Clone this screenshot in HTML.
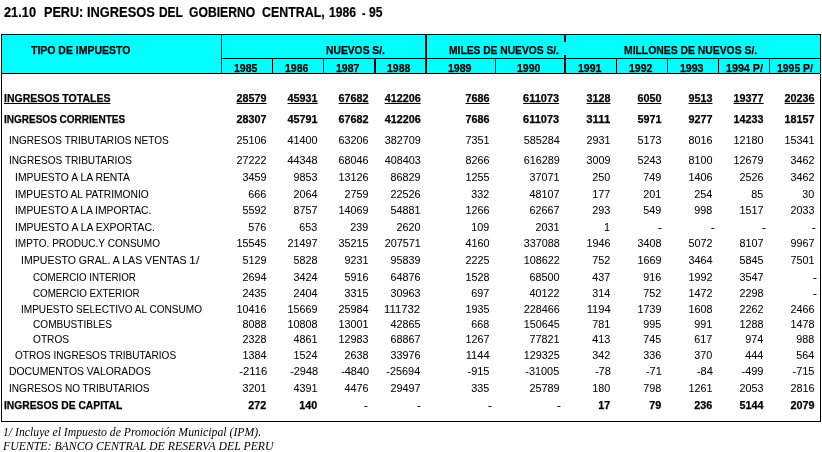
<!DOCTYPE html>
<html><head><meta charset="utf-8"><title>Peru ingresos</title><style>
html,body{margin:0;padding:0;background:#fff}
body{width:822px;height:452px;overflow:hidden;position:relative}
.k{position:absolute;background:#000}
.t{position:absolute;white-space:pre;font-family:"Liberation Sans",Arial,sans-serif;font-size:11px;line-height:13px;color:#000;transform-origin:0 0}
#tx{position:absolute;left:0;top:0;width:822px;height:452px;will-change:transform}
.b{font-weight:bold;-webkit-text-stroke:0.25px #000}
.n{-webkit-text-stroke:0.05px #000}
.d{-webkit-text-stroke:0.2px #000}
.u{text-decoration:underline;text-decoration-thickness:1px;text-underline-offset:1px}
.tt{font-size:14px;line-height:17px;font-weight:bold;-webkit-text-stroke:0.2px #000}
.fi{font-family:"Liberation Serif","Times New Roman",serif;font-style:italic;font-size:12px;line-height:14px}
</style></head><body>
<div class="k" style="left:2px;top:35px;width:818px;height:38px;background:#00ffff"></div>
<div class="k" style="left:1px;top:34px;width:820px;height:1px"></div>
<div class="k" style="left:1px;top:34px;width:1px;height:388px"></div>
<div class="k" style="left:820px;top:34px;width:1px;height:388px"></div>
<div class="k" style="left:1px;top:421px;width:820px;height:1px"></div>
<div class="k" style="left:1px;top:73px;width:820px;height:1px"></div>
<div class="k" style="left:221px;top:58px;width:600px;height:1px"></div>
<div class="k" style="left:221px;top:34px;width:1px;height:40px"></div>
<div class="k" style="left:425px;top:34px;width:2px;height:40px"></div>
<div class="k" style="left:564px;top:34px;width:2px;height:8px"></div>
<div class="k" style="left:564px;top:55px;width:2px;height:19px"></div>
<div class="k" style="left:272px;top:58px;width:1px;height:16px"></div>
<div class="k" style="left:323px;top:58px;width:1px;height:16px"></div>
<div class="k" style="left:374px;top:58px;width:2px;height:16px"></div>
<div class="k" style="left:495px;top:58px;width:1px;height:16px"></div>
<div class="k" style="left:616px;top:58px;width:1px;height:16px"></div>
<div class="k" style="left:667px;top:58px;width:1px;height:16px"></div>
<div class="k" style="left:718px;top:58px;width:1px;height:16px"></div>
<div class="k" style="left:769px;top:58px;width:1px;height:16px"></div>
<div class="k" style="left:820px;top:73px;width:1px;height:1px;background:#00ffff"></div>
<div id="tx">
<div id="tw0" class="t tt" style="left:4.00px;transform:scaleX(0.9143);top:4px">21.10</div>
<div id="tw1" class="t tt" style="left:44.10px;transform:scaleX(0.9024);top:4px">PERU:</div>
<div id="tw2" class="t tt" style="left:87.08px;transform:scaleX(0.9167);top:4px">INGRESOS</div>
<div id="tw3" class="t tt" style="left:159.15px;transform:scaleX(0.8519);top:4px">DEL</div>
<div id="tw4" class="t tt" style="left:189.00px;transform:scaleX(0.8684);top:4px">GOBIERNO</div>
<div id="tw5" class="t tt" style="left:262.00px;transform:scaleX(0.8857);top:4px">CENTRAL,</div>
<div id="tw6" class="t tt" style="left:329.13px;transform:scaleX(0.8667);top:4px">1986</div>
<div id="tw7" class="t tt" style="left:362.00px;transform:scaleX(0.7500);top:5px">-</div>
<div id="tw8" class="t tt" style="left:369.00px;transform:scaleX(0.8667);top:4px">95</div>
<div id="h_tipo" class="t b" style="left:31.00px;transform:scaleX(0.9519);top:44px">TIPO DE IMPUESTO</div>
<div id="h_nuevos" class="t b" style="left:326.00px;transform:scaleX(0.9365);top:44px">NUEVOS S/.</div>
<div id="h_miles" class="t b" style="left:449.00px;transform:scaleX(0.9322);top:44px">MILES DE NUEVOS S/.</div>
<div id="h_millones" class="t b" style="left:624.00px;transform:scaleX(0.9433);top:44px">MILLONES DE NUEVOS S/.</div>
<div id="y0" class="t b" style="left:234.00px;transform:scaleX(0.9583);top:62px">1985</div>
<div id="y1" class="t b" style="left:285.00px;transform:scaleX(0.9583);top:62px">1986</div>
<div id="y2" class="t b" style="left:336.00px;transform:scaleX(0.9583);top:62px">1987</div>
<div id="y3" class="t b" style="left:387.00px;transform:scaleX(0.9583);top:62px">1988</div>
<div id="y4" class="t b" style="left:448.00px;transform:scaleX(0.9583);top:62px">1989</div>
<div id="y5" class="t b" style="left:517.00px;transform:scaleX(0.9583);top:62px">1990</div>
<div id="y6" class="t b" style="left:578.00px;transform:scaleX(0.9583);top:62px">1991</div>
<div id="y7" class="t b" style="left:629.00px;transform:scaleX(0.9583);top:62px">1992</div>
<div id="y8" class="t b" style="left:680.00px;transform:scaleX(0.9583);top:62px">1993</div>
<div id="y9" class="t b" style="left:726.00px;transform:scaleX(0.9737);top:62px">1994 P/</div>
<div id="y10" class="t b" style="left:777.00px;transform:scaleX(0.9474);top:62px">1995 P/</div>
<div id="l0" class="t b u" style="left:4.00px;transform:scaleX(0.9550);top:92px">INGRESOS TOTALES</div>
<div id="v0_0" class="t b u" style="right:555.50px;transform:scaleX(0.9806);transform-origin:100% 0;top:92px">28579</div>
<div id="v0_1" class="t b u" style="right:504.50px;transform:scaleX(0.9806);transform-origin:100% 0;top:92px">45931</div>
<div id="v0_2" class="t b u" style="right:453.50px;transform:scaleX(0.9806);transform-origin:100% 0;top:92px">67682</div>
<div id="v0_3" class="t b u" style="right:401.50px;transform:scaleX(0.9804);transform-origin:100% 0;top:92px">412206</div>
<div id="v0_4" class="t b u" style="right:332.50px;transform:scaleX(0.9802);transform-origin:100% 0;top:92px">7686</div>
<div id="v0_5" class="t b u" style="right:262.50px;transform:scaleX(0.9970);transform-origin:100% 0;top:92px">611073</div>
<div id="v0_6" class="t b u" style="right:211.50px;transform:scaleX(0.9802);transform-origin:100% 0;top:92px">3128</div>
<div id="v0_7" class="t b u" style="right:160.50px;transform:scaleX(0.9802);transform-origin:100% 0;top:92px">6050</div>
<div id="v0_8" class="t b u" style="right:109.50px;transform:scaleX(0.9802);transform-origin:100% 0;top:92px">9513</div>
<div id="v0_9" class="t b u" style="right:58.50px;transform:scaleX(0.9806);transform-origin:100% 0;top:92px">19377</div>
<div id="v0_10" class="t b u" style="right:7.50px;transform:scaleX(0.9806);transform-origin:100% 0;top:92px">20236</div>
<div id="l1" class="t b" style="left:4.00px;transform:scaleX(0.9098);top:113px">INGRESOS CORRIENTES</div>
<div id="v1_0" class="t b" style="right:555.50px;transform:scaleX(0.9806);transform-origin:100% 0;top:113px">28307</div>
<div id="v1_1" class="t b" style="right:504.50px;transform:scaleX(0.9806);transform-origin:100% 0;top:113px">45791</div>
<div id="v1_2" class="t b" style="right:453.50px;transform:scaleX(0.9806);transform-origin:100% 0;top:113px">67682</div>
<div id="v1_3" class="t b" style="right:401.50px;transform:scaleX(0.9804);transform-origin:100% 0;top:113px">412206</div>
<div id="v1_4" class="t b" style="right:332.50px;transform:scaleX(0.9802);transform-origin:100% 0;top:113px">7686</div>
<div id="v1_5" class="t b" style="right:262.50px;transform:scaleX(0.9970);transform-origin:100% 0;top:113px">611073</div>
<div id="v1_6" class="t b" style="right:211.50px;transform:scaleX(1.0316);transform-origin:100% 0;top:113px">3111</div>
<div id="v1_7" class="t b" style="right:160.50px;transform:scaleX(0.9802);transform-origin:100% 0;top:113px">5971</div>
<div id="v1_8" class="t b" style="right:109.50px;transform:scaleX(0.9802);transform-origin:100% 0;top:113px">9277</div>
<div id="v1_9" class="t b" style="right:58.50px;transform:scaleX(0.9806);transform-origin:100% 0;top:113px">14233</div>
<div id="v1_10" class="t b" style="right:7.50px;transform:scaleX(0.9806);transform-origin:100% 0;top:113px">18157</div>
<div id="l2" class="t n" style="left:9.09px;transform:scaleX(0.9133);top:134px">INGRESOS TRIBUTARIOS NETOS</div>
<div id="v2_0" class="t n" style="right:555.50px;transform:scaleX(0.9806);transform-origin:100% 0;top:134px">25106</div>
<div id="v2_1" class="t n" style="right:504.50px;transform:scaleX(0.9806);transform-origin:100% 0;top:134px">41400</div>
<div id="v2_2" class="t n" style="right:453.50px;transform:scaleX(0.9806);transform-origin:100% 0;top:134px">63206</div>
<div id="v2_3" class="t n" style="right:401.50px;transform:scaleX(0.9804);transform-origin:100% 0;top:134px">382709</div>
<div id="v2_4" class="t n" style="right:332.50px;transform:scaleX(0.9802);transform-origin:100% 0;top:134px">7351</div>
<div id="v2_5" class="t n" style="right:262.50px;transform:scaleX(0.9804);transform-origin:100% 0;top:134px">585284</div>
<div id="v2_6" class="t n" style="right:211.50px;transform:scaleX(0.9802);transform-origin:100% 0;top:134px">2931</div>
<div id="v2_7" class="t n" style="right:160.50px;transform:scaleX(0.9802);transform-origin:100% 0;top:134px">5173</div>
<div id="v2_8" class="t n" style="right:109.50px;transform:scaleX(0.9802);transform-origin:100% 0;top:134px">8016</div>
<div id="v2_9" class="t n" style="right:58.50px;transform:scaleX(0.9806);transform-origin:100% 0;top:134px">12180</div>
<div id="v2_10" class="t n" style="right:7.50px;transform:scaleX(0.9806);transform-origin:100% 0;top:134px">15341</div>
<div id="l3" class="t n" style="left:9.08px;transform:scaleX(0.9173);top:154px">INGRESOS TRIBUTARIOS</div>
<div id="v3_0" class="t n" style="right:555.50px;transform:scaleX(0.9806);transform-origin:100% 0;top:154px">27222</div>
<div id="v3_1" class="t n" style="right:504.50px;transform:scaleX(0.9806);transform-origin:100% 0;top:154px">44348</div>
<div id="v3_2" class="t n" style="right:453.50px;transform:scaleX(0.9806);transform-origin:100% 0;top:154px">68046</div>
<div id="v3_3" class="t n" style="right:401.50px;transform:scaleX(0.9804);transform-origin:100% 0;top:154px">408403</div>
<div id="v3_4" class="t n" style="right:332.50px;transform:scaleX(0.9802);transform-origin:100% 0;top:154px">8266</div>
<div id="v3_5" class="t n" style="right:262.50px;transform:scaleX(0.9804);transform-origin:100% 0;top:154px">616289</div>
<div id="v3_6" class="t n" style="right:211.50px;transform:scaleX(0.9802);transform-origin:100% 0;top:154px">3009</div>
<div id="v3_7" class="t n" style="right:160.50px;transform:scaleX(0.9802);transform-origin:100% 0;top:154px">5243</div>
<div id="v3_8" class="t n" style="right:109.50px;transform:scaleX(0.9802);transform-origin:100% 0;top:154px">8100</div>
<div id="v3_9" class="t n" style="right:58.50px;transform:scaleX(0.9806);transform-origin:100% 0;top:154px">12679</div>
<div id="v3_10" class="t n" style="right:7.50px;transform:scaleX(0.9802);transform-origin:100% 0;top:154px">3462</div>
<div id="l4" class="t n" style="left:15.06px;transform:scaleX(0.9421);top:171px">IMPUESTO A LA RENTA</div>
<div id="v4_0" class="t n" style="right:555.50px;transform:scaleX(0.9802);transform-origin:100% 0;top:171px">3459</div>
<div id="v4_1" class="t n" style="right:504.50px;transform:scaleX(0.9802);transform-origin:100% 0;top:171px">9853</div>
<div id="v4_2" class="t n" style="right:453.50px;transform:scaleX(0.9806);transform-origin:100% 0;top:171px">13126</div>
<div id="v4_3" class="t n" style="right:401.50px;transform:scaleX(0.9806);transform-origin:100% 0;top:171px">86829</div>
<div id="v4_4" class="t n" style="right:332.50px;transform:scaleX(0.9802);transform-origin:100% 0;top:171px">1255</div>
<div id="v4_5" class="t n" style="right:262.50px;transform:scaleX(0.9806);transform-origin:100% 0;top:171px">37071</div>
<div id="v4_6" class="t n" style="right:211.50px;transform:scaleX(0.9804);transform-origin:100% 0;top:171px">250</div>
<div id="v4_7" class="t n" style="right:160.50px;transform:scaleX(0.9804);transform-origin:100% 0;top:171px">749</div>
<div id="v4_8" class="t n" style="right:109.50px;transform:scaleX(0.9802);transform-origin:100% 0;top:171px">1406</div>
<div id="v4_9" class="t n" style="right:58.50px;transform:scaleX(0.9802);transform-origin:100% 0;top:171px">2526</div>
<div id="v4_10" class="t n" style="right:7.50px;transform:scaleX(0.9802);transform-origin:100% 0;top:171px">3462</div>
<div id="l5" class="t n" style="left:15.07px;transform:scaleX(0.9296);top:188px">IMPUESTO AL PATRIMONIO</div>
<div id="v5_0" class="t n" style="right:555.50px;transform:scaleX(0.9804);transform-origin:100% 0;top:188px">666</div>
<div id="v5_1" class="t n" style="right:504.50px;transform:scaleX(0.9802);transform-origin:100% 0;top:188px">2064</div>
<div id="v5_2" class="t n" style="right:453.50px;transform:scaleX(0.9802);transform-origin:100% 0;top:188px">2759</div>
<div id="v5_3" class="t n" style="right:401.50px;transform:scaleX(0.9806);transform-origin:100% 0;top:188px">22526</div>
<div id="v5_4" class="t n" style="right:332.50px;transform:scaleX(0.9804);transform-origin:100% 0;top:188px">332</div>
<div id="v5_5" class="t n" style="right:262.50px;transform:scaleX(0.9806);transform-origin:100% 0;top:188px">48107</div>
<div id="v5_6" class="t n" style="right:211.50px;transform:scaleX(0.9804);transform-origin:100% 0;top:188px">177</div>
<div id="v5_7" class="t n" style="right:160.50px;transform:scaleX(0.9804);transform-origin:100% 0;top:188px">201</div>
<div id="v5_8" class="t n" style="right:109.50px;transform:scaleX(0.9804);transform-origin:100% 0;top:188px">254</div>
<div id="v5_9" class="t n" style="right:58.50px;transform:scaleX(0.9796);transform-origin:100% 0;top:188px">85</div>
<div id="v5_10" class="t n" style="right:7.50px;transform:scaleX(0.9796);transform-origin:100% 0;top:188px">30</div>
<div id="l6" class="t n" style="left:15.06px;transform:scaleX(0.9375);top:204px">IMPUESTO A LA IMPORTAC.</div>
<div id="v6_0" class="t n" style="right:555.50px;transform:scaleX(0.9802);transform-origin:100% 0;top:204px">5592</div>
<div id="v6_1" class="t n" style="right:504.50px;transform:scaleX(0.9802);transform-origin:100% 0;top:204px">8757</div>
<div id="v6_2" class="t n" style="right:453.50px;transform:scaleX(0.9806);transform-origin:100% 0;top:204px">14069</div>
<div id="v6_3" class="t n" style="right:401.50px;transform:scaleX(0.9806);transform-origin:100% 0;top:204px">54881</div>
<div id="v6_4" class="t n" style="right:332.50px;transform:scaleX(0.9802);transform-origin:100% 0;top:204px">1266</div>
<div id="v6_5" class="t n" style="right:262.50px;transform:scaleX(0.9806);transform-origin:100% 0;top:204px">62667</div>
<div id="v6_6" class="t n" style="right:211.50px;transform:scaleX(0.9804);transform-origin:100% 0;top:204px">293</div>
<div id="v6_7" class="t n" style="right:160.50px;transform:scaleX(0.9804);transform-origin:100% 0;top:204px">549</div>
<div id="v6_8" class="t n" style="right:109.50px;transform:scaleX(0.9804);transform-origin:100% 0;top:204px">998</div>
<div id="v6_9" class="t n" style="right:58.50px;transform:scaleX(0.9802);transform-origin:100% 0;top:204px">1517</div>
<div id="v6_10" class="t n" style="right:7.50px;transform:scaleX(0.9802);transform-origin:100% 0;top:204px">2033</div>
<div id="l7" class="t n" style="left:15.05px;transform:scaleX(0.9452);top:221px">IMPUESTO A LA EXPORTAC.</div>
<div id="v7_0" class="t n" style="right:555.50px;transform:scaleX(0.9804);transform-origin:100% 0;top:221px">576</div>
<div id="v7_1" class="t n" style="right:504.50px;transform:scaleX(0.9804);transform-origin:100% 0;top:221px">653</div>
<div id="v7_2" class="t n" style="right:453.50px;transform:scaleX(0.9804);transform-origin:100% 0;top:221px">239</div>
<div id="v7_3" class="t n" style="right:401.50px;transform:scaleX(0.9802);transform-origin:100% 0;top:221px">2620</div>
<div id="v7_4" class="t n" style="right:332.50px;transform:scaleX(0.9804);transform-origin:100% 0;top:221px">109</div>
<div id="v7_5" class="t n" style="right:262.50px;transform:scaleX(0.9802);transform-origin:100% 0;top:221px">2031</div>
<div id="v7_6" class="t n" style="right:211.50px;transform:scaleX(0.9796);transform-origin:100% 0;top:221px">1</div>
<div id="v7_7" class="t n d" style="left:658.00px;top:221px">-</div>
<div id="v7_8" class="t n d" style="left:711.00px;top:221px">-</div>
<div id="v7_9" class="t n d" style="left:762.00px;top:221px">-</div>
<div id="v7_10" class="t n d" style="left:812.00px;top:221px">-</div>
<div id="l8" class="t n" style="left:15.09px;transform:scaleX(0.9114);top:237px">IMPTO. PRODUC.Y CONSUMO</div>
<div id="v8_0" class="t n" style="right:555.50px;transform:scaleX(0.9806);transform-origin:100% 0;top:237px">15545</div>
<div id="v8_1" class="t n" style="right:504.50px;transform:scaleX(0.9806);transform-origin:100% 0;top:237px">21497</div>
<div id="v8_2" class="t n" style="right:453.50px;transform:scaleX(0.9806);transform-origin:100% 0;top:237px">35215</div>
<div id="v8_3" class="t n" style="right:401.50px;transform:scaleX(0.9804);transform-origin:100% 0;top:237px">207571</div>
<div id="v8_4" class="t n" style="right:332.50px;transform:scaleX(0.9802);transform-origin:100% 0;top:237px">4160</div>
<div id="v8_5" class="t n" style="right:262.50px;transform:scaleX(0.9804);transform-origin:100% 0;top:237px">337088</div>
<div id="v8_6" class="t n" style="right:211.50px;transform:scaleX(0.9802);transform-origin:100% 0;top:237px">1946</div>
<div id="v8_7" class="t n" style="right:160.50px;transform:scaleX(0.9802);transform-origin:100% 0;top:237px">3408</div>
<div id="v8_8" class="t n" style="right:109.50px;transform:scaleX(0.9802);transform-origin:100% 0;top:237px">5072</div>
<div id="v8_9" class="t n" style="right:58.50px;transform:scaleX(0.9802);transform-origin:100% 0;top:237px">8107</div>
<div id="v8_10" class="t n" style="right:7.50px;transform:scaleX(0.9802);transform-origin:100% 0;top:237px">9967</div>
<div id="l9" class="t n" style="left:21.04px;transform:scaleX(0.9591);top:254px">IMPUESTO GRAL. A LAS VENTAS</div>
<div id="l9b" class="t n" style="left:188.88px;transform:scaleX(1.1250);top:254px">1/</div>
<div id="v9_0" class="t n" style="right:555.50px;transform:scaleX(0.9802);transform-origin:100% 0;top:254px">5129</div>
<div id="v9_1" class="t n" style="right:504.50px;transform:scaleX(0.9802);transform-origin:100% 0;top:254px">5828</div>
<div id="v9_2" class="t n" style="right:453.50px;transform:scaleX(0.9802);transform-origin:100% 0;top:254px">9231</div>
<div id="v9_3" class="t n" style="right:401.50px;transform:scaleX(0.9806);transform-origin:100% 0;top:254px">95839</div>
<div id="v9_4" class="t n" style="right:332.50px;transform:scaleX(0.9802);transform-origin:100% 0;top:254px">2225</div>
<div id="v9_5" class="t n" style="right:262.50px;transform:scaleX(0.9804);transform-origin:100% 0;top:254px">108622</div>
<div id="v9_6" class="t n" style="right:211.50px;transform:scaleX(0.9804);transform-origin:100% 0;top:254px">752</div>
<div id="v9_7" class="t n" style="right:160.50px;transform:scaleX(0.9802);transform-origin:100% 0;top:254px">1669</div>
<div id="v9_8" class="t n" style="right:109.50px;transform:scaleX(0.9802);transform-origin:100% 0;top:254px">3464</div>
<div id="v9_9" class="t n" style="right:58.50px;transform:scaleX(0.9802);transform-origin:100% 0;top:254px">5845</div>
<div id="v9_10" class="t n" style="right:7.50px;transform:scaleX(0.9802);transform-origin:100% 0;top:254px">7501</div>
<div id="l10" class="t n" style="left:33.11px;transform:scaleX(0.8860);top:271px">COMERCIO INTERIOR</div>
<div id="v10_0" class="t n" style="right:555.50px;transform:scaleX(0.9802);transform-origin:100% 0;top:271px">2694</div>
<div id="v10_1" class="t n" style="right:504.50px;transform:scaleX(0.9802);transform-origin:100% 0;top:271px">3424</div>
<div id="v10_2" class="t n" style="right:453.50px;transform:scaleX(0.9802);transform-origin:100% 0;top:271px">5916</div>
<div id="v10_3" class="t n" style="right:401.50px;transform:scaleX(0.9806);transform-origin:100% 0;top:271px">64876</div>
<div id="v10_4" class="t n" style="right:332.50px;transform:scaleX(0.9802);transform-origin:100% 0;top:271px">1528</div>
<div id="v10_5" class="t n" style="right:262.50px;transform:scaleX(0.9806);transform-origin:100% 0;top:271px">68500</div>
<div id="v10_6" class="t n" style="right:211.50px;transform:scaleX(0.9804);transform-origin:100% 0;top:271px">437</div>
<div id="v10_7" class="t n" style="right:160.50px;transform:scaleX(0.9804);transform-origin:100% 0;top:271px">916</div>
<div id="v10_8" class="t n" style="right:109.50px;transform:scaleX(0.9802);transform-origin:100% 0;top:271px">1992</div>
<div id="v10_9" class="t n" style="right:58.50px;transform:scaleX(0.9802);transform-origin:100% 0;top:271px">3547</div>
<div id="v10_10" class="t n d" style="left:813.00px;top:271px">-</div>
<div id="l11" class="t n" style="left:33.11px;transform:scaleX(0.8898);top:287px">COMERCIO EXTERIOR</div>
<div id="v11_0" class="t n" style="right:555.50px;transform:scaleX(0.9802);transform-origin:100% 0;top:287px">2435</div>
<div id="v11_1" class="t n" style="right:504.50px;transform:scaleX(0.9802);transform-origin:100% 0;top:287px">2404</div>
<div id="v11_2" class="t n" style="right:453.50px;transform:scaleX(0.9802);transform-origin:100% 0;top:287px">3315</div>
<div id="v11_3" class="t n" style="right:401.50px;transform:scaleX(0.9806);transform-origin:100% 0;top:287px">30963</div>
<div id="v11_4" class="t n" style="right:332.50px;transform:scaleX(0.9804);transform-origin:100% 0;top:287px">697</div>
<div id="v11_5" class="t n" style="right:262.50px;transform:scaleX(0.9806);transform-origin:100% 0;top:287px">40122</div>
<div id="v11_6" class="t n" style="right:211.50px;transform:scaleX(0.9804);transform-origin:100% 0;top:287px">314</div>
<div id="v11_7" class="t n" style="right:160.50px;transform:scaleX(0.9804);transform-origin:100% 0;top:287px">752</div>
<div id="v11_8" class="t n" style="right:109.50px;transform:scaleX(0.9802);transform-origin:100% 0;top:287px">1472</div>
<div id="v11_9" class="t n" style="right:58.50px;transform:scaleX(0.9802);transform-origin:100% 0;top:287px">2298</div>
<div id="v11_10" class="t n d" style="left:813.00px;top:287px">-</div>
<div id="l12" class="t n" style="left:21.09px;transform:scaleX(0.9137);top:303px">IMPUESTO SELECTIVO AL CONSUMO</div>
<div id="v12_0" class="t n" style="right:555.50px;transform:scaleX(0.9806);transform-origin:100% 0;top:303px">10416</div>
<div id="v12_1" class="t n" style="right:504.50px;transform:scaleX(0.9806);transform-origin:100% 0;top:303px">15669</div>
<div id="v12_2" class="t n" style="right:453.50px;transform:scaleX(0.9806);transform-origin:100% 0;top:303px">25984</div>
<div id="v12_3" class="t n" style="right:401.50px;transform:scaleX(1.0263);transform-origin:100% 0;top:303px">111732</div>
<div id="v12_4" class="t n" style="right:332.50px;transform:scaleX(0.9802);transform-origin:100% 0;top:303px">1935</div>
<div id="v12_5" class="t n" style="right:262.50px;transform:scaleX(0.9804);transform-origin:100% 0;top:303px">228466</div>
<div id="v12_6" class="t n" style="right:211.50px;transform:scaleX(1.0145);transform-origin:100% 0;top:303px">1194</div>
<div id="v12_7" class="t n" style="right:160.50px;transform:scaleX(0.9802);transform-origin:100% 0;top:303px">1739</div>
<div id="v12_8" class="t n" style="right:109.50px;transform:scaleX(0.9802);transform-origin:100% 0;top:303px">1608</div>
<div id="v12_9" class="t n" style="right:58.50px;transform:scaleX(0.9802);transform-origin:100% 0;top:303px">2262</div>
<div id="v12_10" class="t n" style="right:7.50px;transform:scaleX(0.9802);transform-origin:100% 0;top:303px">2466</div>
<div id="l13" class="t n" style="left:33.08px;transform:scaleX(0.9176);top:318px">COMBUSTIBLES</div>
<div id="v13_0" class="t n" style="right:555.50px;transform:scaleX(0.9802);transform-origin:100% 0;top:318px">8088</div>
<div id="v13_1" class="t n" style="right:504.50px;transform:scaleX(0.9806);transform-origin:100% 0;top:318px">10808</div>
<div id="v13_2" class="t n" style="right:453.50px;transform:scaleX(0.9806);transform-origin:100% 0;top:318px">13001</div>
<div id="v13_3" class="t n" style="right:401.50px;transform:scaleX(0.9806);transform-origin:100% 0;top:318px">42865</div>
<div id="v13_4" class="t n" style="right:332.50px;transform:scaleX(0.9804);transform-origin:100% 0;top:318px">668</div>
<div id="v13_5" class="t n" style="right:262.50px;transform:scaleX(0.9804);transform-origin:100% 0;top:318px">150645</div>
<div id="v13_6" class="t n" style="right:211.50px;transform:scaleX(0.9804);transform-origin:100% 0;top:318px">781</div>
<div id="v13_7" class="t n" style="right:160.50px;transform:scaleX(0.9804);transform-origin:100% 0;top:318px">995</div>
<div id="v13_8" class="t n" style="right:109.50px;transform:scaleX(0.9804);transform-origin:100% 0;top:318px">991</div>
<div id="v13_9" class="t n" style="right:58.50px;transform:scaleX(0.9802);transform-origin:100% 0;top:318px">1288</div>
<div id="v13_10" class="t n" style="right:7.50px;transform:scaleX(0.9802);transform-origin:100% 0;top:318px">1478</div>
<div id="l14" class="t n" style="left:33.08px;transform:scaleX(0.9211);top:333px">OTROS</div>
<div id="v14_0" class="t n" style="right:555.50px;transform:scaleX(0.9802);transform-origin:100% 0;top:333px">2328</div>
<div id="v14_1" class="t n" style="right:504.50px;transform:scaleX(0.9802);transform-origin:100% 0;top:333px">4861</div>
<div id="v14_2" class="t n" style="right:453.50px;transform:scaleX(0.9806);transform-origin:100% 0;top:333px">12983</div>
<div id="v14_3" class="t n" style="right:401.50px;transform:scaleX(0.9806);transform-origin:100% 0;top:333px">68867</div>
<div id="v14_4" class="t n" style="right:332.50px;transform:scaleX(0.9802);transform-origin:100% 0;top:333px">1267</div>
<div id="v14_5" class="t n" style="right:262.50px;transform:scaleX(0.9806);transform-origin:100% 0;top:333px">77821</div>
<div id="v14_6" class="t n" style="right:211.50px;transform:scaleX(0.9804);transform-origin:100% 0;top:333px">413</div>
<div id="v14_7" class="t n" style="right:160.50px;transform:scaleX(0.9804);transform-origin:100% 0;top:333px">745</div>
<div id="v14_8" class="t n" style="right:109.50px;transform:scaleX(0.9804);transform-origin:100% 0;top:333px">617</div>
<div id="v14_9" class="t n" style="right:58.50px;transform:scaleX(0.9804);transform-origin:100% 0;top:333px">974</div>
<div id="v14_10" class="t n" style="right:7.50px;transform:scaleX(0.9804);transform-origin:100% 0;top:333px">988</div>
<div id="l15" class="t n" style="left:15.09px;transform:scaleX(0.9143);top:349px">OTROS INGRESOS TRIBUTARIOS</div>
<div id="v15_0" class="t n" style="right:555.50px;transform:scaleX(0.9802);transform-origin:100% 0;top:349px">1384</div>
<div id="v15_1" class="t n" style="right:504.50px;transform:scaleX(0.9802);transform-origin:100% 0;top:349px">1524</div>
<div id="v15_2" class="t n" style="right:453.50px;transform:scaleX(0.9802);transform-origin:100% 0;top:349px">2638</div>
<div id="v15_3" class="t n" style="right:401.50px;transform:scaleX(0.9806);transform-origin:100% 0;top:349px">33976</div>
<div id="v15_4" class="t n" style="right:332.50px;transform:scaleX(1.0145);transform-origin:100% 0;top:349px">1144</div>
<div id="v15_5" class="t n" style="right:262.50px;transform:scaleX(0.9804);transform-origin:100% 0;top:349px">129325</div>
<div id="v15_6" class="t n" style="right:211.50px;transform:scaleX(0.9804);transform-origin:100% 0;top:349px">342</div>
<div id="v15_7" class="t n" style="right:160.50px;transform:scaleX(0.9804);transform-origin:100% 0;top:349px">336</div>
<div id="v15_8" class="t n" style="right:109.50px;transform:scaleX(0.9804);transform-origin:100% 0;top:349px">370</div>
<div id="v15_9" class="t n" style="right:58.50px;transform:scaleX(0.9804);transform-origin:100% 0;top:349px">444</div>
<div id="v15_10" class="t n" style="right:7.50px;transform:scaleX(0.9804);transform-origin:100% 0;top:349px">564</div>
<div id="l16" class="t n" style="left:9.05px;transform:scaleX(0.9459);top:365px">DOCUMENTOS VALORADOS</div>
<div id="v16_0" class="t n" style="right:554.50px;transform:scaleX(1.0246);transform-origin:100% 0;top:365px">-2116</div>
<div id="v16_1" class="t n" style="right:503.50px;transform:scaleX(0.9950);transform-origin:100% 0;top:365px">-2948</div>
<div id="v16_2" class="t n" style="right:452.50px;transform:scaleX(0.9950);transform-origin:100% 0;top:365px">-4840</div>
<div id="v16_3" class="t n" style="right:401.50px;transform:scaleX(0.9922);transform-origin:100% 0;top:365px">-25694</div>
<div id="v16_4" class="t n" style="right:332.50px;top:365px">-915</div>
<div id="v16_5" class="t n" style="right:262.50px;transform:scaleX(0.9922);transform-origin:100% 0;top:365px">-31005</div>
<div id="v16_6" class="t n" style="right:211.50px;transform:scaleX(1.0059);transform-origin:100% 0;top:365px">-78</div>
<div id="v16_7" class="t n" style="right:160.50px;transform:scaleX(1.0059);transform-origin:100% 0;top:365px">-71</div>
<div id="v16_8" class="t n" style="right:109.50px;transform:scaleX(1.0059);transform-origin:100% 0;top:365px">-84</div>
<div id="v16_9" class="t n" style="right:58.50px;top:365px">-499</div>
<div id="v16_10" class="t n" style="right:7.50px;top:365px">-715</div>
<div id="l17" class="t n" style="left:9.09px;transform:scaleX(0.9145);top:382px">INGRESOS NO TRIBUTARIOS</div>
<div id="v17_0" class="t n" style="right:555.50px;transform:scaleX(0.9802);transform-origin:100% 0;top:382px">3201</div>
<div id="v17_1" class="t n" style="right:504.50px;transform:scaleX(0.9802);transform-origin:100% 0;top:382px">4391</div>
<div id="v17_2" class="t n" style="right:453.50px;transform:scaleX(0.9802);transform-origin:100% 0;top:382px">4476</div>
<div id="v17_3" class="t n" style="right:401.50px;transform:scaleX(0.9806);transform-origin:100% 0;top:382px">29497</div>
<div id="v17_4" class="t n" style="right:332.50px;transform:scaleX(0.9804);transform-origin:100% 0;top:382px">335</div>
<div id="v17_5" class="t n" style="right:262.50px;transform:scaleX(0.9806);transform-origin:100% 0;top:382px">25789</div>
<div id="v17_6" class="t n" style="right:211.50px;transform:scaleX(0.9804);transform-origin:100% 0;top:382px">180</div>
<div id="v17_7" class="t n" style="right:160.50px;transform:scaleX(0.9804);transform-origin:100% 0;top:382px">798</div>
<div id="v17_8" class="t n" style="right:109.50px;transform:scaleX(0.9802);transform-origin:100% 0;top:382px">1261</div>
<div id="v17_9" class="t n" style="right:58.50px;transform:scaleX(0.9802);transform-origin:100% 0;top:382px">2053</div>
<div id="v17_10" class="t n" style="right:7.50px;transform:scaleX(0.9802);transform-origin:100% 0;top:382px">2816</div>
<div id="l18" class="t b" style="left:4.00px;transform:scaleX(0.9365);top:399px">INGRESOS DE CAPITAL</div>
<div id="v18_0" class="t b" style="right:555.50px;transform:scaleX(0.9804);transform-origin:100% 0;top:399px">272</div>
<div id="v18_1" class="t b" style="right:504.50px;transform:scaleX(0.9804);transform-origin:100% 0;top:399px">140</div>
<div id="v18_2" class="t n d" style="left:364.00px;top:399px">-</div>
<div id="v18_3" class="t n d" style="left:417.00px;top:399px">-</div>
<div id="v18_4" class="t n d" style="left:488.00px;top:399px">-</div>
<div id="v18_5" class="t n d" style="left:557.00px;top:399px">-</div>
<div id="v18_6" class="t b" style="right:211.50px;transform:scaleX(0.9796);transform-origin:100% 0;top:399px">17</div>
<div id="v18_7" class="t b" style="right:160.50px;transform:scaleX(0.9796);transform-origin:100% 0;top:399px">79</div>
<div id="v18_8" class="t b" style="right:109.50px;transform:scaleX(0.9804);transform-origin:100% 0;top:399px">236</div>
<div id="v18_9" class="t b" style="right:58.50px;transform:scaleX(0.9802);transform-origin:100% 0;top:399px">5144</div>
<div id="v18_10" class="t b" style="right:7.50px;transform:scaleX(0.9802);transform-origin:100% 0;top:399px">2079</div>
<div id="f1" class="t fi" style="left:3.05px;transform:scaleX(0.9770);top:425px">1/ Incluye el Impuesto de Promoción Municipal (IPM).</div>
<div id="f2" class="t fi" style="left:3.02px;transform:scaleX(0.9818);top:439px">FUENTE: BANCO CENTRAL DE RESERVA DEL PERU</div>
</div>
</body></html>
